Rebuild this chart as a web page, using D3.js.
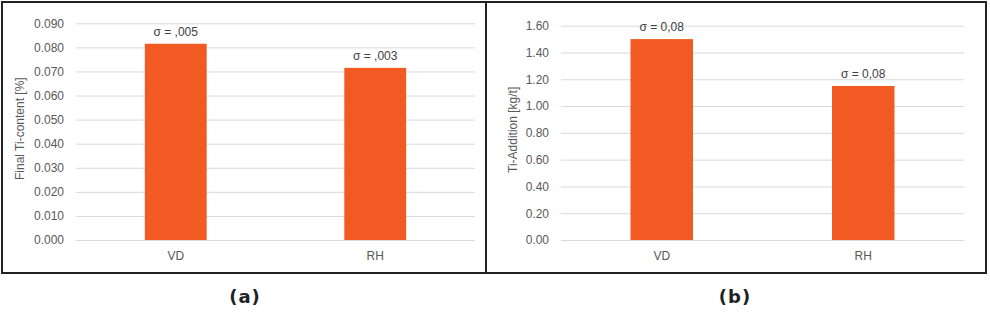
<!DOCTYPE html>
<html><head><meta charset="utf-8">
<script src="https://cdn.jsdelivr.net/npm/d3@7"></script>
<style>body{margin:0;background:#fff}svg{display:block}</style>
</head><body>
<svg id="c" width="990" height="312"></svg>
<script>
const categories = ["VD", "RH"];
const tiContent = [0.0815, 0.0715];
const tiContentSigma = ["σ = ,005", "σ = ,003"];
const tiContentTicks = [0, 0.01, 0.02, 0.03, 0.04, 0.05, 0.06, 0.07, 0.08, 0.09];
const tiAddition = [1.50, 1.15];
const tiAdditionSigma = ["σ = 0,08", "σ = 0,08"];
const tiAdditionTicks = [0, 0.2, 0.4, 0.6, 0.8, 1.0, 1.2, 1.4, 1.6];

const svg = d3.select("#c");
const font = "'Liberation Sans', Arial, sans-serif";
const gray = "#595959";
const barColor = "#F15A22";
const fs = "12px";

// frames
svg.append("rect").attr("x", 2).attr("y", 2).attr("width", 984).attr("height", 271)
  .attr("fill", "none").attr("stroke", "#222").attr("stroke-width", 2);
svg.append("line").attr("x1", 486).attr("x2", 486).attr("y1", 2).attr("y2", 273)
  .attr("stroke", "#222").attr("stroke-width", 2);

function panel(cfg) {
  const g = svg.append("g");
  const y = d3.scaleLinear().domain([0, cfg.max]).range([240, cfg.top]);
  const x = d3.scaleBand().domain(categories).range([cfg.x0, cfg.x1]).paddingInner(0.69).paddingOuter(0.345);
  const yAxis = d3.axisLeft(y).tickValues(cfg.ticks).tickFormat(d3.format(cfg.fmt))
    .tickSize(-(cfg.x1 - cfg.x0)).tickPadding(12);
  const ga = g.append("g").attr("transform", `translate(${cfg.x0},0)`).call(yAxis);
  ga.select(".domain").remove();
  ga.selectAll(".tick line").attr("stroke", "#d9d9d9").attr("stroke-width", 1);
  ga.selectAll(".tick text").attr("fill", gray).style("font-family", font).style("font-size", fs);
  g.selectAll("rect.bar").data(cfg.values).join("rect").attr("class", "bar")
    .attr("x", (d, i) => x(categories[i])).attr("width", x.bandwidth())
    .attr("y", d => y(d)).attr("height", d => 240 - y(d)).attr("fill", barColor);
  g.selectAll("text.sig").data(cfg.values).join("text").attr("class", "sig")
    .attr("x", (d, i) => x(categories[i]) + x.bandwidth() / 2).attr("y", d => y(d) - 8)
    .attr("text-anchor", "middle").attr("fill", "#404040")
    .style("font-family", font).style("font-size", fs).text((d, i) => cfg.sigma[i]);
  const xa = d3.axisBottom(x).tickSize(0).tickPadding(11);
  const gx = g.append("g").attr("transform", "translate(0,240)").call(xa);
  gx.select(".domain").remove();
  gx.selectAll(".tick text").attr("fill", gray).style("font-family", font).style("font-size", fs);
  g.append("text").attr("transform", `translate(${cfg.titleX},${(240 + cfg.top) / 2 - 3}) rotate(-90)`)
    .attr("text-anchor", "middle").attr("fill", gray).style("font-family", font).style("font-size", fs)
    .text(cfg.title);
  svg.append("text").attr("x", cfg.capX).attr("y", 303).attr("text-anchor", "middle")
    .attr("fill", "#222").style("font-family", "'DejaVu Sans', Verdana, sans-serif")
    .style("font-weight", "bold").style("font-size", "18px").style("letter-spacing", "1px")
    .text(cfg.caption);
}

panel({x0: 76, x1: 475, top: 23.3, max: 0.09, ticks: tiContentTicks, fmt: ".3f",
  values: tiContent, sigma: tiContentSigma, title: "Final Ti-content [%]", titleX: 24, capX: 245, caption: "(a)"});
panel({x0: 561, x1: 964, top: 25.7, max: 1.6, ticks: tiAdditionTicks, fmt: ".2f",
  values: tiAddition, sigma: tiAdditionSigma, title: "Ti-Addition [kg/t]", titleX: 517, capX: 735, caption: "(b)"});
</script>
</body></html>
